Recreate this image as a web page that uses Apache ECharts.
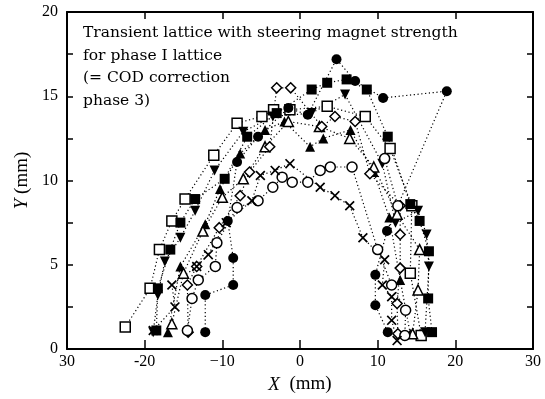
<!DOCTYPE html>
<html>
<head>
<meta charset="utf-8">
<script src="https://cdn.jsdelivr.net/npm/echarts@6/dist/echarts.min.js"></script>
<style>html,body{margin:0;padding:0;background:#fff}#c{width:545px;height:399px}</style>
</head>
<body>
<div id="c"></div>
<script>
// tick labels
var xTickValues = [-30, -20, -10, 0, 10, 20, 30];
var xTickLabels = ['30', '-20', '\u221210', '0', '10', '20', '30'];
var yTickValues = [0, 5, 10, 15, 20];
var yTickLabels = ['0', '5', '10', '15', '20'];

var noteLines = ['Transient lattice with steering magnet strength', 'for phase I lattice', '(= COD correction', 'phase 3)'];

// series values [X mm, Y mm]
var openSquare = [[-22.5,1.3],[-19.3,3.6],[-18.1,5.9],[-16.5,7.6],[-14.8,8.9],[-11.1,11.5],[-8.1,13.4],[-4.9,13.8],[-3.4,14.2],[-1.3,14.2],[3.5,14.4],[8.4,13.8],[11.6,11.9],[14.4,8.5],[14.2,4.5],[15.6,0.8]];
var filledSquare = [[-18.5,1.1],[-18.3,3.6],[-16.7,5.9],[-15.4,7.5],[-13.5,8.9],[-9.7,10.1],[-6.8,12.6],[-3.0,14.0],[1.5,15.4],[3.5,15.8],[6.0,16.0],[8.6,15.4],[11.3,12.6],[14.2,8.6],[15.4,7.6],[16.6,5.8],[16.5,3.0],[17.0,1.0]];
var downTriangle = [[-18.9,1.0],[-18.3,3.2],[-17.4,5.2],[-15.4,6.6],[-13.5,8.2],[-11.0,10.6],[-7.3,12.9],[-3.5,13.8],[1.5,14.0],[5.8,15.1],[10.6,11.0],[12.3,7.5],[15.2,8.2],[16.3,6.8],[16.6,4.9],[16.1,1.0]];
var upTriangle = [[-17.0,1.0],[-15.4,4.9],[-12.2,7.4],[-10.3,9.5],[-7.7,11.6],[-4.5,13.0],[-2.0,13.5],[1.3,12.0],[3.0,12.5],[6.5,13.0],[9.5,10.5],[11.5,7.8],[12.9,4.1],[14.2,0.9]];
var openTriangle = [[-16.5,1.5],[-15.0,4.5],[-12.5,7.0],[-10.0,9.0],[-7.3,10.1],[-4.5,12.0],[-1.5,13.5],[2.5,13.2],[6.4,12.5],[9.5,10.8],[12.5,8.0],[15.4,5.9],[15.2,3.5],[14.5,0.9]];
var openDiamond = [[-14.4,1.0],[-14.5,3.8],[-13.3,4.9],[-10.4,7.2],[-7.7,9.1],[-6.5,10.5],[-3.9,12.0],[-3.0,15.5],[-1.2,15.5],[2.8,13.2],[4.5,13.8],[7.1,13.5],[9.0,10.4],[12.9,8.5],[12.9,6.8],[12.9,4.8],[12.5,2.7],[12.6,0.9]];
var openCircle = [[-14.5,1.1],[-13.9,3.0],[-13.1,4.1],[-10.9,4.9],[-10.7,6.3],[-8.1,8.4],[-5.4,8.8],[-3.5,9.6],[-2.3,10.2],[-1.0,9.9],[1.0,9.9],[2.6,10.6],[3.9,10.8],[6.7,10.8],[10.0,5.9],[11.8,3.8],[13.6,2.3],[13.5,0.8]];
var openCircleOuter = [[10.9,11.3],[12.6,8.5]];
var crossMark = [[-18.9,1.1],[-16.1,2.5],[-16.5,3.8],[-13.3,4.9],[-11.8,5.6],[-9.5,7.5],[-6.2,8.8],[-5.1,10.3],[-3.2,10.6],[-1.3,11.0],[2.6,9.6],[4.5,9.1],[6.4,8.5],[8.1,6.6],[10.9,5.3],[10.6,3.8],[11.8,3.1],[11.8,1.7],[12.5,0.5]];
var filledCircle = [[-12.2,1.0],[-12.2,3.2],[-8.6,3.8],[-8.6,5.4],[-9.3,7.6],[-8.1,11.1],[-5.4,12.6],[-1.5,14.3],[1.0,13.9],[4.7,17.2],[7.1,15.9],[10.7,14.9],[18.9,15.3],[11.2,7.0],[9.7,4.4],[9.7,2.6],[11.3,1.0]];

var CROSS = 'path://M0,1.2L1.2,0L5,3.8L8.8,0L10,1.2L6.2,5L10,8.8L8.8,10L5,6.2L1.2,10L0,8.8L3.8,5Z';
var SERIF = '"Liberation Serif", "DejaVu Serif", serif';
var WIDESERIF = '"DejaVu Serif", serif';
var dotted = {color: '#000', width: 1.2, type: [1.2, 2.6]};

function mk(data, symbol, open, size, rotate) {
  return {
    type: 'line', data: data, symbol: symbol, symbolSize: size || 10,
    symbolRotate: rotate || 0, showAllSymbol: true, animation: false,
    lineStyle: dotted,
    itemStyle: open ? {color: '#fff', borderColor: '#000', borderWidth: 1.5}
                    : {color: '#000', borderColor: '#000', borderWidth: 0}
  };
}

function xLab(v) { var i = xTickValues.indexOf(v); return i < 0 ? '' : xTickLabels[i]; }
function yLab(v) { var i = yTickValues.indexOf(v); return i < 0 ? '' : yTickLabels[i]; }

var chart = echarts.init(document.getElementById('c'), null, {renderer: 'canvas'});
var axisLine = {show: true, onZero: false, lineStyle: {color: '#000', width: 2}};
chart.setOption({
  animation: false,
  backgroundColor: '#fff',
  grid: {left: 67, top: 12, right: 12, bottom: 47, containLabel: false},
  xAxis: [{
    type: 'value', min: -30, max: 30, interval: 10, position: 'bottom',
    axisLine: axisLine,
    axisTick: {show: true, inside: true, length: 9, lineStyle: {color: '#000', width: 1.5}},
    splitLine: {show: false},
    axisLabel: {formatter: xLab, color: '#000', fontFamily: SERIF, fontSize: 16, margin: 5},
    name: '{i|X}  (mm)', nameLocation: 'middle', nameGap: 26,
    nameTextStyle: {color: '#000', fontFamily: SERIF, fontSize: 19,
      rich: {i: {fontStyle: 'italic', fontFamily: SERIF, fontSize: 19, color: '#000'}}}
  }, {
    type: 'value', min: -30, max: 30, interval: 10, position: 'top',
    axisLine: axisLine,
    axisTick: {show: true, inside: true, length: 7, lineStyle: {color: '#000', width: 1.5}},
    axisLabel: {show: false}, splitLine: {show: false}
  }],
  yAxis: [{
    type: 'value', min: 0, max: 20, interval: 5, position: 'left',
    axisLine: axisLine,
    axisTick: {show: true, inside: true, length: 6, lineStyle: {color: '#000', width: 1.5}},
    minorTick: {show: true, splitNumber: 2, length: 6, lineStyle: {color: '#000', width: 1.5}},
    splitLine: {show: false},
    axisLabel: {formatter: yLab, color: '#000', fontFamily: SERIF, fontSize: 16, margin: 9},
    name: '{i|Y} (mm)', nameLocation: 'middle', nameGap: 30, nameRotate: 90,
    nameTextStyle: {color: '#000', fontFamily: SERIF, fontSize: 19,
      rich: {i: {fontStyle: 'italic', fontFamily: SERIF, fontSize: 19, color: '#000'}}}
  }, {
    type: 'value', min: 0, max: 20, interval: 5, position: 'right',
    axisLine: axisLine,
    axisTick: {show: true, inside: true, length: 6, lineStyle: {color: '#000', width: 1.5}},
    minorTick: {show: true, splitNumber: 2, length: 6, lineStyle: {color: '#000', width: 1.5}},
    axisLabel: {show: false}, splitLine: {show: false}
  }],
  graphic: [{
    type: 'text', left: 83, top: 22, silent: true,
    style: {text: noteLines.join('\n'), fill: '#000', font: '15.5px ' + WIDESERIF, lineHeight: 22.5}
  }],
  series: [
    mk(openSquare, 'rect', true, 10),
    mk(filledSquare, 'rect', false, 10),
    mk(downTriangle, 'triangle', false, 10, 180),
    mk(upTriangle, 'triangle', false, 10),
    mk(openTriangle, 'triangle', true, 10),
    mk(openDiamond, 'diamond', true, 10),
    mk(openCircle, 'circle', true, 10),
    mk(openCircleOuter, 'circle', true, 10),
    mk(crossMark, CROSS, false, 10),
    mk(filledCircle, 'circle', false, 10)
  ]
});
</script>
</body>
</html>
